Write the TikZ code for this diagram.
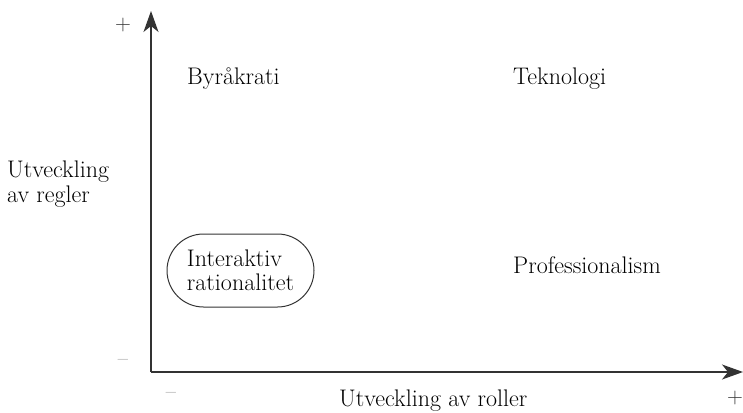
\documentclass[tikz,border=0pt]{standalone}
\usetikzlibrary{arrows.meta,shapes.misc}
\begin{document}
\begin{tikzpicture}[x=1pt,y=-1pt,
  axis/.style={line width=1.5pt,draw=black!80,-{Stealth[length=21pt,width=15pt,inset=6pt]}},
  lbl/.style={inner sep=0pt,anchor=base west,font=\fontsize{24}{25}\selectfont,text=black},
  sign/.style={inner sep=0pt,font=\fontsize{22}{22}\selectfont,text=black!80},
  capsule/.style={draw=black!80,line width=1pt,rounded rectangle,
    minimum width=147pt,minimum height=73pt,inner sep=0pt,align=left,
    font=\fontsize{24}{24}\selectfont,text=black}]
\useasboundingbox (0,0) rectangle (743,412);
% axes
\coordinate (o) at (151,372);
\coordinate (ytip) at (151,11);
\coordinate (xtip) at (743,372);
\draw[axis] (o) -- (ytip);
\draw[axis] (o) -- (xtip);
% end marks of the scales
\node[sign] (yplus) at (123,25) {+};
\node[sign,text=black!60] (yminus) at (123,362) {--};
\node[sign,text=black!60] (xminus) at (171,395) {--};
\node[sign] (xplus) at (735,398) {+};
% axis titles
\node[lbl] (ylab1) at (7,177) {Utveckling};
\node[lbl] (ylab2) at (7,202) {av regler};
\node[lbl] (xlab) at (339,406) {Utveckling av roller};
% quadrant labels
\node[lbl] (byr) at (187,84) {Byråkrati};
\node[lbl] (tek) at (513,84) {Teknologi};
\node[lbl] (pro) at (513,273) {Professionalism};
\node[capsule] (ir) at (240.5,270.5) {Interaktiv\\rationalitet};
\end{tikzpicture}
\end{document}
